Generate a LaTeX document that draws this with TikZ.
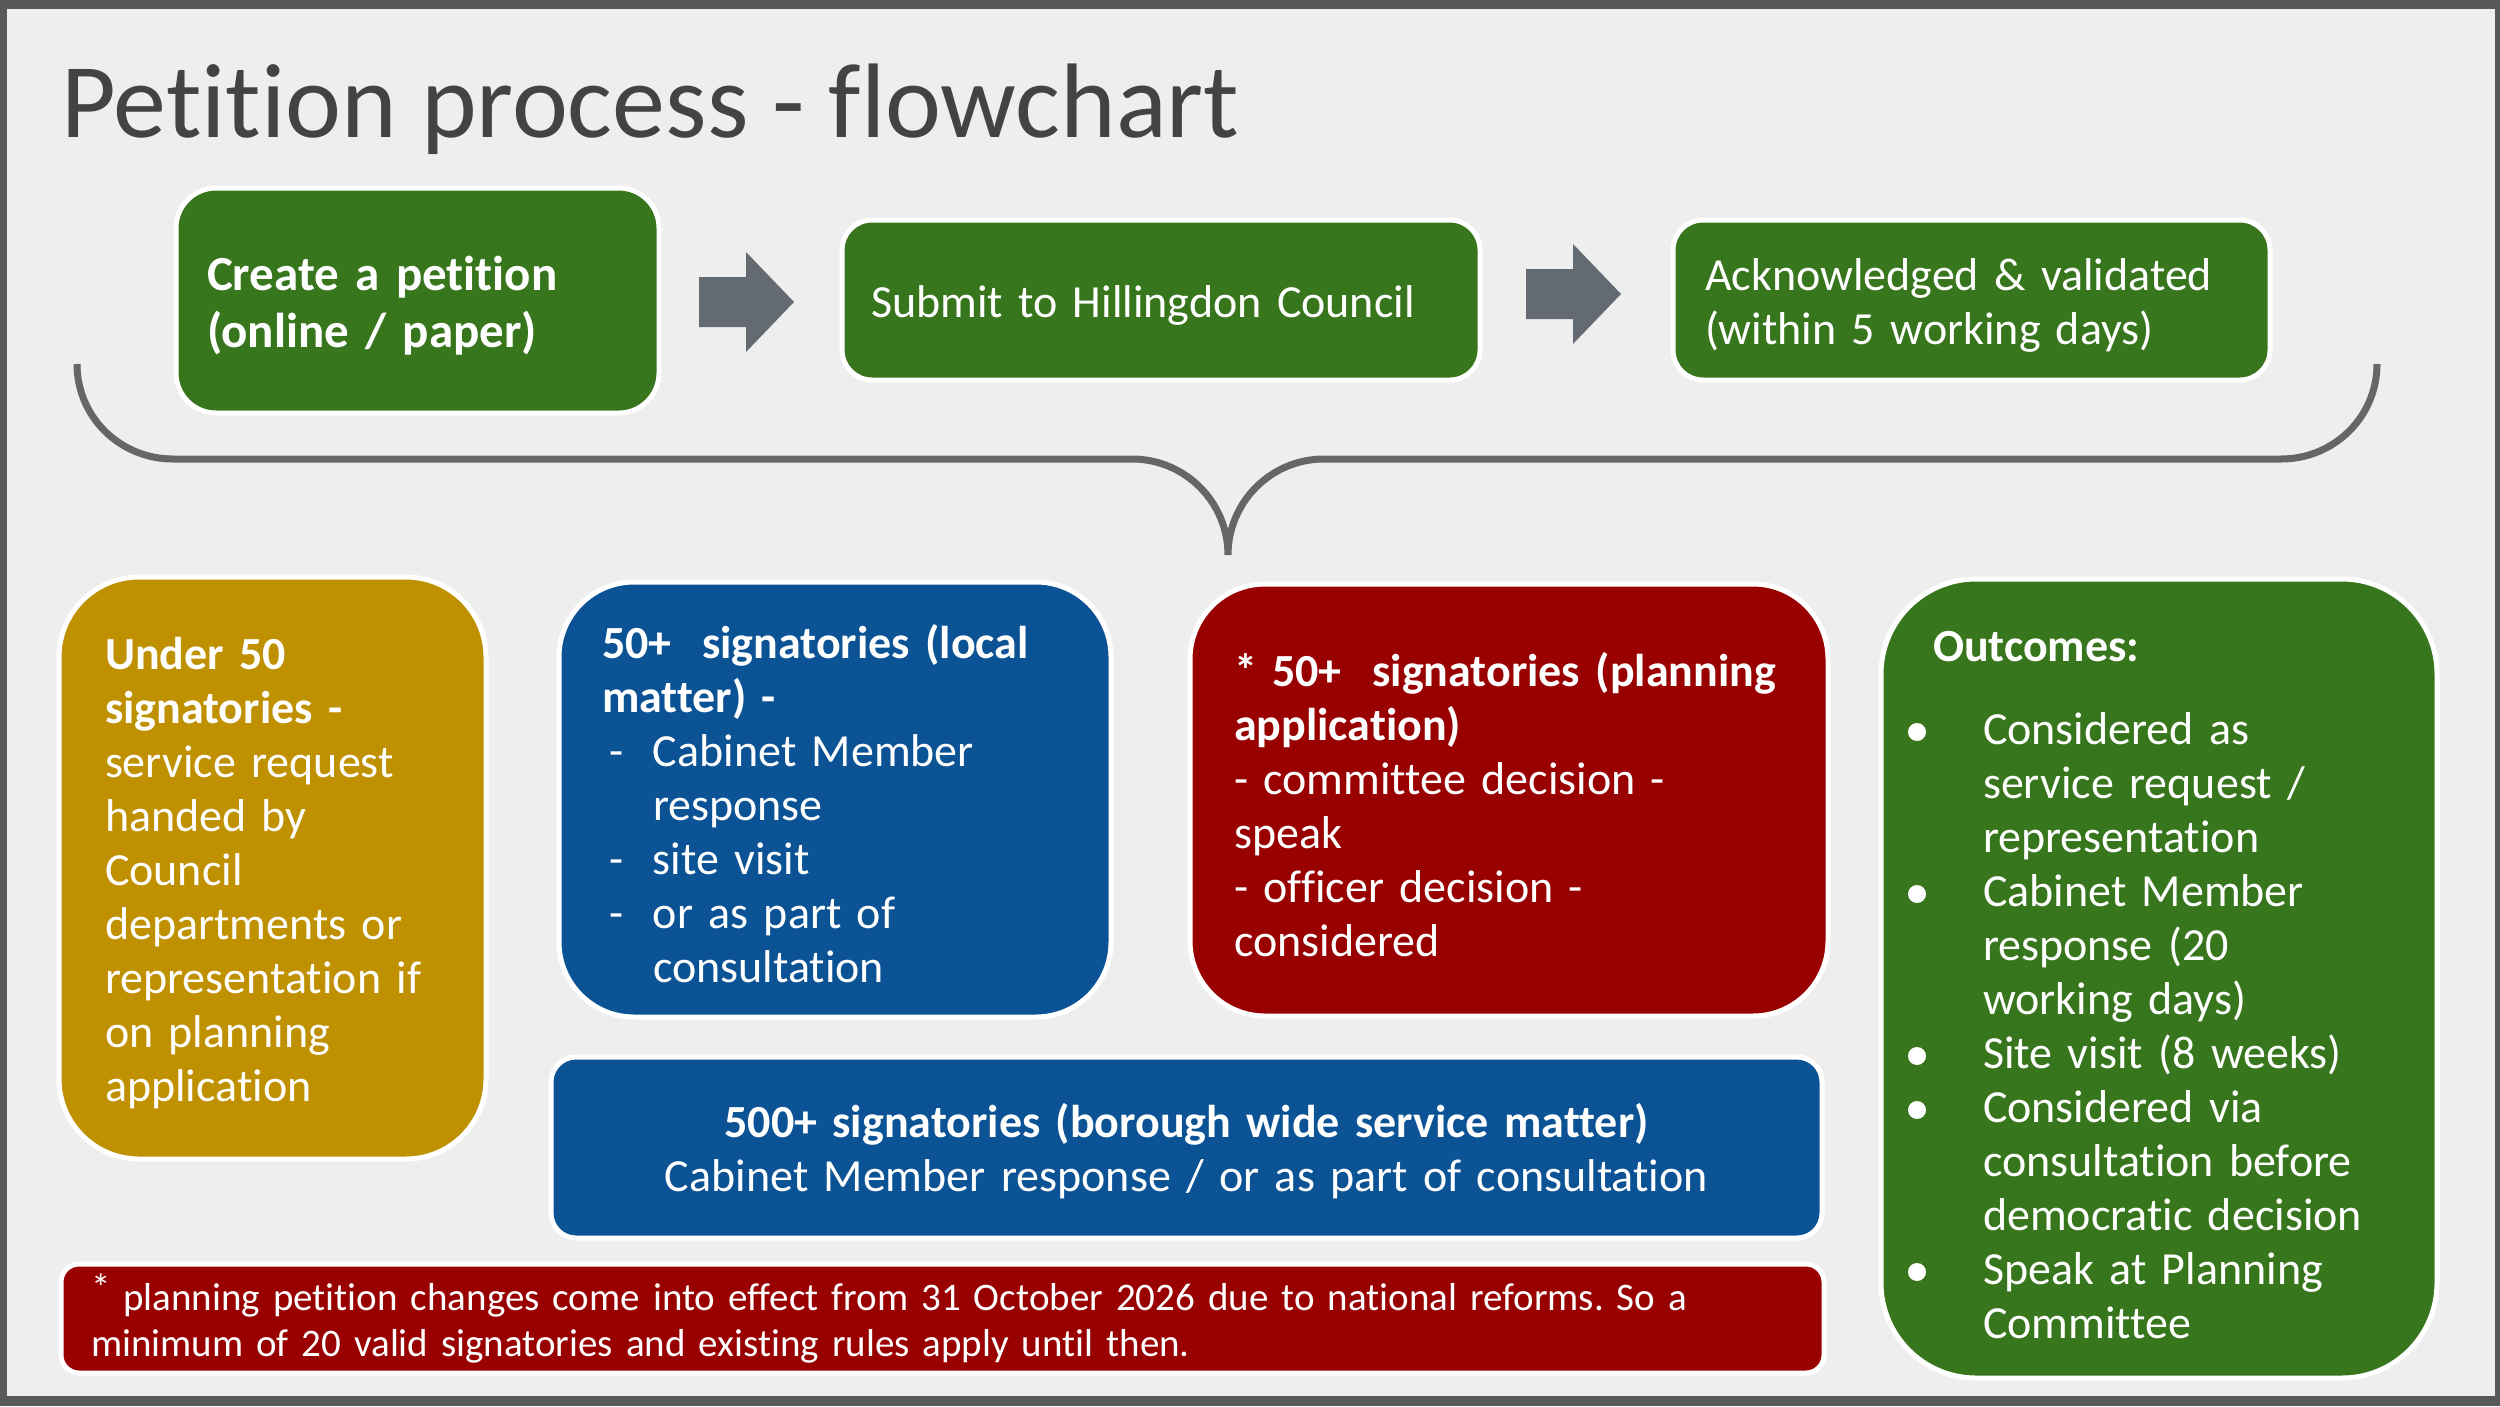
\documentclass[tikz,border=0pt]{standalone}
\usepackage{fontspec}
\setmainfont[Ligatures=NoCommon]{Carlito}
\definecolor{bggray}{HTML}{EEEEEE}
\definecolor{framegray}{HTML}{595959}
\definecolor{titlegray}{HTML}{434343}
\definecolor{bracegray}{HTML}{666666}
\definecolor{arrowgray}{HTML}{636A72}
\definecolor{boxgreen}{HTML}{38761D}
\definecolor{boxblue}{HTML}{0B5394}
\definecolor{boxred}{HTML}{990000}
\definecolor{boxgold}{HTML}{BF9000}
\tikzset{
    stepbox/.style={draw=white, line width=5pt, text=white, align=left, inner ysep=0pt,
        font=\fontsize{46}{54}\selectfont, execute at begin node={\frenchspacing\rule{0pt}{0.92em}}},
    blockarrow/.pic={\fill[arrowgray] (-47,-25) -- (0,-25) -- (0,-50) -- (48,0) -- (0,50) -- (0,25) -- (-47,25) -- cycle;}
}
\newcommand\itemdash{\makebox[51pt][l]{\hspace*{7pt}-}}
\newcommand\itemgap{\hspace*{51pt}}
\newcommand\outdot{\makebox[75pt][l]{\raisebox{3pt}{\tikz\fill[white] (0,0) circle (9pt);}}}
\newcommand\outgap{\hspace*{75pt}}

\begin{document}
\begin{tikzpicture}[x=1pt, y=-1pt]
    \useasboundingbox (0,0) rectangle (2500,1406);
    \fill[framegray] (0,0) rectangle (2500,1406);
    \fill[bggray] (7,9) rectangle (2495,1396);

    \node[anchor=base west, inner sep=0pt, text=titlegray, font=\fontsize{106}{110}\selectfont]
        (title) at (61,137) {Petition process - flowchart};

    \node[stepbox, fill=boxgreen, rounded corners=40pt, minimum width=483pt, minimum height=225pt,
        text width=421pt, inner xsep=31pt, font=\bfseries\fontsize{49}{57}\selectfont]
        (create) at (417.5,300.5) {Create a petition\\(online / paper)};
    \node[stepbox, fill=boxgreen, rounded corners=30pt, minimum width=638pt, minimum height=160pt,
        text width=580pt, inner xsep=29pt]
        (submit) at (1161,300) {Submit to Hillingdon Council};
    \node[stepbox, fill=boxgreen, rounded corners=30pt, minimum width=597pt, minimum height=160pt,
        text width=533pt, inner xsep=32pt]
        (ack) at (1971.5,300) {Acknowledged \& validated\\(within 5 working days)};

    \coordinate (arr1) at (746,302);
    \coordinate (arr2) at (1573,294);
    \pic at (arr1) {blockarrow};
    \pic at (arr2) {blockarrow};

    \coordinate (braceL) at (77,364);
    \coordinate (braceTip) at (1228,555);
    \coordinate (braceR) at (2377,364);
    \draw[bracegray, line width=7pt]
        (braceL) .. controls (77,417) and (120,459) .. (173,459) -- (1132,459)
        .. controls (1185,459) and (1228,502) .. (braceTip)
        .. controls (1228,502) and (1271,459) .. (1324,459) -- (2281,459)
        .. controls (2334,459) and (2377,417) .. (braceR);

    \node[stepbox, fill=boxgold, rounded corners=80pt, minimum width=427pt, minimum height=582pt,
        text width=335pt, inner xsep=46pt]
        (under) at (272.5,868) {\textbf{Under 50}\\\textbf{signatories -}\\service request\\handed by\\Council\\departments or\\representation if\\on planning\\application};
    \node[stepbox, fill=boxblue, rounded corners=75pt, minimum width=552pt, minimum height=435pt,
        text width=466pt, inner xsep=43pt]
        (local) at (835,799.5) {\textbf{50+~ signatories (local}\\\textbf{matter) -}\\
            \itemdash Cabinet Member\\\itemgap response\\\itemdash site visit\\
            \itemdash or as part of\\\itemgap consultation};
    \node[stepbox, fill=boxred, rounded corners=75pt, minimum width=638pt, minimum height=432pt,
        text width=550pt, inner xsep=44pt]
        (planning) at (1509,800) {\textbf{* 50+~ signatories (planning}\\\textbf{application)}\\
            - committee decision -\\speak\\- officer decision -\\considered};
    \node[stepbox, fill=boxgreen, rounded corners=95pt, minimum width=556pt, minimum height=799pt,
        text width=502pt, inner xsep=27pt]
        (outcomes) at (2159,978.5) {\hspace*{25pt}\textbf{Outcomes:}\\[29pt]
            \outdot Considered as\\\outgap service request /\\\outgap representation\\
            \outdot Cabinet Member\\\outgap response (20\\\outgap working days)\\
            \outdot Site visit (8 weeks)\\
            \outdot Considered via\\\outgap consultation before\\\outgap democratic decision\\
            \outdot Speak at Planning\\\outgap Committee};

    \node[stepbox, fill=boxblue, rounded corners=25pt, minimum width=1271pt, minimum height=181pt,
        text width=1211pt, inner xsep=30pt, align=center]
        (borough) at (1186.5,1147.5) {\textbf{500+ signatories (borough wide service matter)}\\
            Cabinet Member response / or as part of consultation};
    \node[stepbox, fill=boxred, rounded corners=18pt, minimum width=1763pt, minimum height=109pt,
        text width=1703pt, inner xsep=30pt, font=\fontsize{39}{46}\selectfont]
        (note) at (942.5,1318.5) {\raisebox{9pt}{*} planning petition changes come into effect from 31 October 2026 due to national reforms. So a\\
            minimum of 20 valid signatories and existing rules apply until then.};
\end{tikzpicture}
\end{document}
